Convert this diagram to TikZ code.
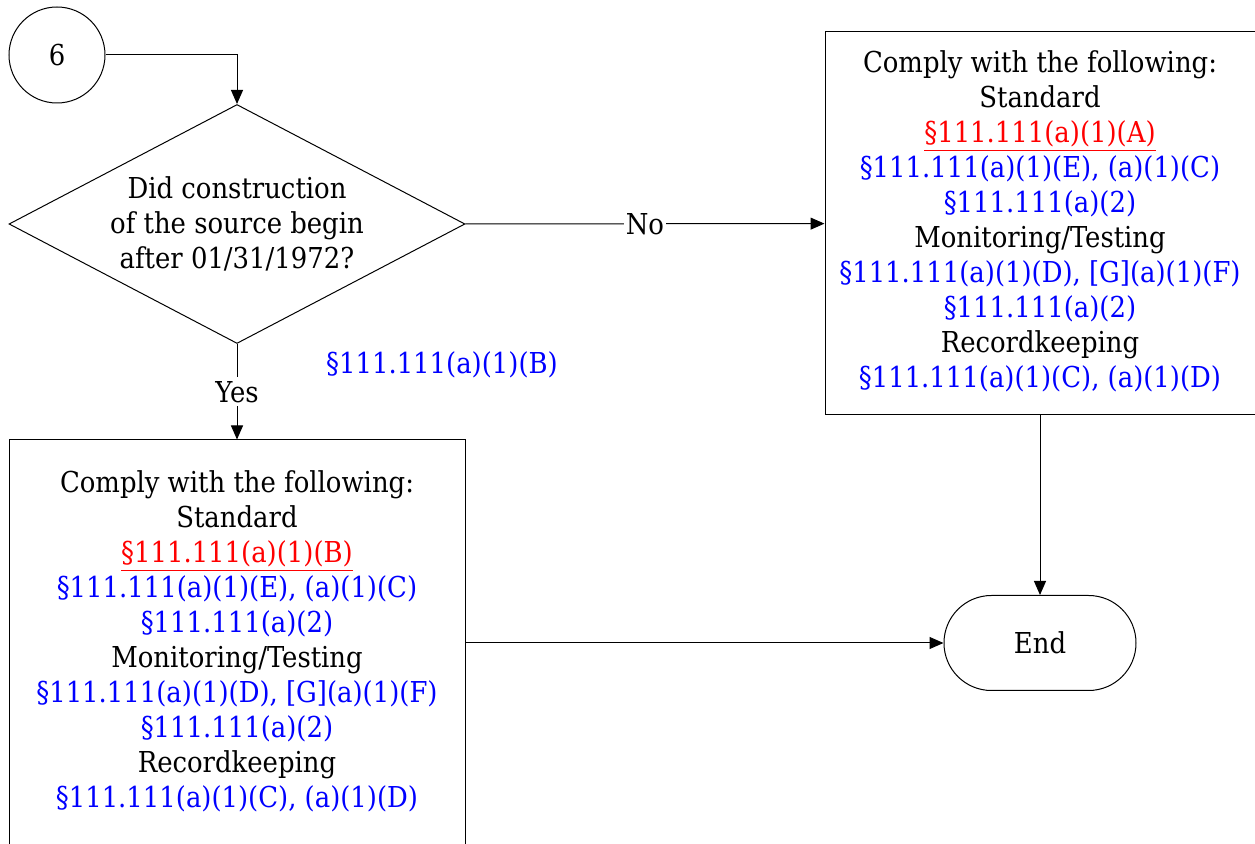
\documentclass[tikz,border=0pt]{standalone}
\usepackage{fontspec}
\setmainfont{DejaVu Serif Condensed}
\usepackage{xcolor}
\usetikzlibrary{arrows.meta, shapes.geometric, positioning}
\definecolor{regblue}{RGB}{0,0,255}
\definecolor{regred}{RGB}{255,0,0}
\newcommand{\rb}[1]{\textcolor{regblue}{#1}}
\newcommand{\rr}[1]{\textcolor{regred}{\underline{#1}}}

\begin{document}
\begin{tikzpicture}[x=0.5pt,y=-0.5pt,line width=0.5pt,
    >={Triangle[length=7pt,width=6pt]},
    font=\fontsize{14.4}{17.5}\selectfont]
  \tikzstyle{every node}=[inner sep=0pt,align=center]
  \tikzstyle{offpage}=[circle,draw,minimum size=48pt]
  \tikzstyle{decision}=[diamond,draw,minimum width=228pt,minimum height=119.5pt]
  \tikzstyle{process}=[rectangle,draw,minimum width=228pt,minimum height=203pt]
  \tikzstyle{terminal}=[rectangle,draw,rounded corners=23.7pt,minimum width=96pt,minimum height=47.5pt]

  \clip (0,0) rectangle (1255,844);
  \useasboundingbox (0,0) rectangle (1255,844);

  \node[offpage](c6) at (57,55) {6};
  \node[decision](dec) at (237,224) {};
  \node(q) at (dec.center) {Did construction\\of the source begin\\after 01/31/1972?};
  \node[process](lbox) at (237,643) {};
  \node(ltxt) at (237,641.5) {Comply with the following:\\Standard\\\rr{§111.111(a)(1)(B)}\\
    \rb{§111.111(a)(1)(E), (a)(1)(C)}\\\rb{§111.111(a)(2)}\\Monitoring/Testing\\
    \rb{§111.111(a)(1)(D), [G](a)(1)(F)}\\\rb{§111.111(a)(2)}\\Recordkeeping\\
    \rb{§111.111(a)(1)(C), (a)(1)(D)}};
  \node[process,minimum width=215pt,minimum height=191.5pt](rbox) at (1040,223.5) {};
  \node(rtxt) at (1040,221.5) {Comply with the following:\\Standard\\\rr{§111.111(a)(1)(A)}\\
    \rb{§111.111(a)(1)(E), (a)(1)(C)}\\\rb{§111.111(a)(2)}\\Monitoring/Testing\\
    \rb{§111.111(a)(1)(D), [G](a)(1)(F)}\\\rb{§111.111(a)(2)}\\Recordkeeping\\
    \rb{§111.111(a)(1)(C), (a)(1)(D)}};
  \node[terminal](end) at (1040,643) {End};
  \node(secb) at (442,365) {\rb{§111.111(a)(1)(B)}};

  \draw[->] (c6) -| (dec);
  \path[->]
  (dec) edge node[fill=white,inner sep=1pt] {No}  (rbox)
  (dec) edge node[fill=white,inner sep=2pt] {Yes} (lbox)
  (rbox) edge (end)
  (lbox.east |- end) edge (end);
\end{tikzpicture}
\end{document}
